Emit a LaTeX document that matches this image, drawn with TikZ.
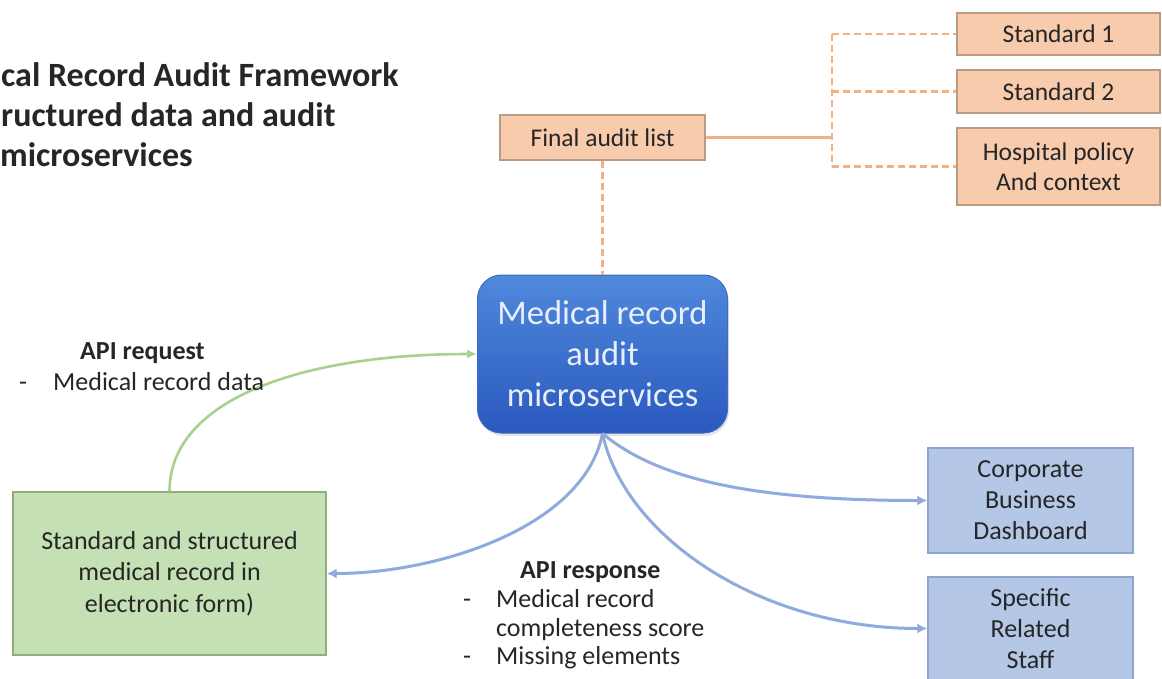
\documentclass[tikz,border=0pt]{standalone}
\usepackage{fontspec}
\setmainfont{Carlito}
\usetikzlibrary{arrows.meta,shadows}
\definecolor{txt}{HTML}{262626}
\definecolor{ofill}{HTML}{F8CBAD}
\definecolor{oedge}{HTML}{B89C88}
\definecolor{oline}{HTML}{F2B183}
\definecolor{gfill}{HTML}{C5E0B4}
\definecolor{gedge}{HTML}{8FAE7C}
\definecolor{gline}{HTML}{A9D18E}
\definecolor{lbfill}{HTML}{B4C7E7}
\definecolor{lbedge}{HTML}{8EA5CD}
\definecolor{bline}{HTML}{8FAADC}
\definecolor{btop}{HTML}{5089DC}
\definecolor{bbot}{HTML}{2A59BE}
\definecolor{bedge}{HTML}{3A6BC6}
\definecolor{btext}{HTML}{E8EFFA}
\begin{document}
\begin{tikzpicture}[x=1pt,y=-1pt,
  obox/.style={draw=oedge, fill=ofill, line width=1.3pt, inner sep=0pt, align=center,
    text=txt, font=\fontsize{25.5}{30}\selectfont},
  lbbox/.style={draw=lbedge, fill=lbfill, line width=1.3pt, inner sep=0pt, align=center,
    text=txt, font=\fontsize{26}{31}\selectfont, minimum width=205pt},
  gbox/.style={draw=gedge, fill=gfill, line width=1.3pt, inner sep=0pt, align=center,
    text=txt, font=\fontsize{26}{31.5}\selectfont},
  mainbox/.style={rounded corners=24pt, draw=bedge, line width=1pt, top color=btop,
    bottom color=bbot, inner sep=0pt, align=center, text=btext,
    font=\fontsize{34.5}{41}\selectfont,
    drop shadow={opacity=0.2, shadow xshift=1.5pt, shadow yshift=-3pt}},
  olink/.style={draw=oline, line width=2.6pt},
  odash/.style={olink, dash pattern=on 7pt off 4pt},
  glink/.style={draw=gline, line width=2.6pt, -{Latex[length=10pt,width=9pt]}},
  blink/.style={draw=bline, line width=3pt, -{Latex[length=10pt,width=10pt]}},
  lbl/.style={text=txt, font=\fontsize{26}{30}\selectfont, inner sep=0pt},
  hdr/.style={text=txt, font=\bfseries\fontsize{26}{30}\selectfont, inner sep=0pt},
  ttl/.style={text=txt, font=\bfseries\fontsize{34}{40}\selectfont, inner sep=0pt}]
\useasboundingbox (0,0) rectangle (1162,678);
\fill[white] (0,0) rectangle (1162,678);

% heading
\node[ttl, anchor=base west] (t1) at (1,86) {cal Record Audit Framework};
\node[ttl, anchor=base west] (t2) at (1,126) {ructured data and audit};
\node[ttl, anchor=base west] (t3) at (0,166) {microservices};

% audit standards
\node[obox, minimum width=203pt, minimum height=42pt] (s1) at (1058.5,34) {Standard 1};
\node[obox, minimum width=203pt, minimum height=43pt] (s2) at (1058.5,91.5) {Standard 2};
\node[obox, minimum width=203pt, minimum height=77pt] (hp) at (1058.5,166.5) {Hospital policy\\And context};
\node[obox, minimum width=205pt, minimum height=45pt] (fl) at (602.5,137.5) {Final audit list};

\coordinate (jn) at (832,137.5);
\path[olink] (fl.east) -- (jn);
\path[odash] (jn |- s1.west) -- (jn |- hp.west);
\path[odash] (jn |- s1.west) -- (s1.west);
\path[odash] (jn |- s2.west) -- (s2.west);
\path[odash] (jn |- hp.west) -- (hp.west);

% central service
\node[mainbox, minimum width=250pt, minimum height=158pt] (mb) at (602.5,354)
  {Medical record\\audit\\microservices};
\path[odash] (fl.south) -- (mb.north);

% record source
\node[gbox, minimum width=313pt, minimum height=163pt] (gr) at (169.5,573.5)
  {Standard and structured\\medical record in\\electronic form)};

% consumers
\node[lbbox, minimum height=105pt] (cb) at (1030.5,500.5) {Corporate\\Business\\Dashboard};
\node[lbbox, minimum height=103pt] (ss) at (1030.5,628.5) {Specific\\Related\\Staff};

% flows
\path[glink] (gr.north) .. controls +(0,-92) and +(-175,0) .. (mb.west);
\path[blink] (mb.south) .. controls +(-18,93) and +(112,0) .. (gr.east);
\path[blink] (mb.south) .. controls +(57,48) and +(-167,0) .. (cb.west);
\path[blink] (mb.south) .. controls +(22,103) and +(-167,0) .. (ss.west);

% request label
\node[hdr, anchor=base west] (rqh) at (80,359) {API request};
\node[lbl, anchor=base west] (rqd) at (19,390) {-};
\node[lbl, anchor=base west] (rqt) at (53,390) {Medical record data};

% response label
\node[hdr, anchor=base west] (rsh) at (520,578) {API response};
\node[lbl, anchor=base west] (rsd1) at (463,607) {-};
\node[lbl, anchor=base west] (rst1) at (496,607) {Medical record};
\node[lbl, anchor=base west] (rst2) at (496,636) {completeness score};
\node[lbl, anchor=base west] (rsd2) at (463,664) {-};
\node[lbl, anchor=base west] (rst3) at (496,664) {Missing elements};
\end{tikzpicture}
\end{document}
